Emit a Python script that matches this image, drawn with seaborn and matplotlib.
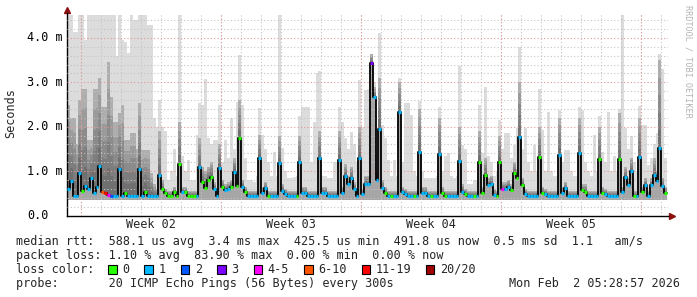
import numpy as np
import matplotlib
matplotlib.use("Agg")
import matplotlib.pyplot as plt
import matplotlib.transforms as mtransforms
from matplotlib.patches import Rectangle
import seaborn as sns

# ---------------- data (7 bins per day, 30 days) ----------------
BINS_PER_DAY = 7

median_rtt_ms = [
    0.60, 0.78, 0.45, 0.45, 0.96, 0.55, 0.66,
    0.60, 0.85, 0.50, 0.65, 1.12, 0.52, 0.50,
    0.46, 0.45, 0.45, 0.45, 1.04, 0.45, 0.50,
    0.45, 0.45, 0.45, 0.45, 1.04, 0.45, 0.54,
    0.43, 0.43, 0.43, 0.43, 0.91, 0.59, 0.50,
    0.45, 0.45, 0.52, 0.45, 1.17, 0.52, 0.52,
    0.45, 0.45, 0.45, 0.45, 1.09, 0.75, 0.63,
    0.80, 0.87, 0.60, 0.45, 1.08, 0.65, 0.57,
    0.59, 0.65, 0.99, 0.66, 1.75, 0.65, 0.54,
    0.45, 0.45, 0.45, 0.45, 1.30, 0.50, 0.61,
    0.45, 0.45, 0.45, 0.45, 1.18, 0.55, 0.48,
    0.45, 0.45, 0.45, 0.45, 1.21, 0.50, 0.50,
    0.45, 0.45, 0.45, 0.45, 1.29, 0.51, 0.51,
    0.45, 0.45, 0.45, 0.45, 1.26, 0.50, 0.90,
    0.70, 0.85, 0.59, 0.45, 1.30, 0.48, 0.70,
    0.70, 3.43, 2.66, 0.80, 1.95, 0.61, 0.50,
    0.45, 0.45, 0.45, 0.45, 2.32, 0.52, 0.48,
    0.45, 0.45, 0.45, 0.45, 1.44, 0.50, 0.50,
    0.45, 0.45, 0.45, 0.45, 1.38, 0.50, 0.45,
    0.45, 0.45, 0.45, 0.45, 1.23, 0.54, 0.48,
    0.45, 0.45, 0.45, 0.45, 1.21, 0.50, 0.91,
    0.69, 0.72, 0.46, 0.45, 1.21, 0.60, 0.60,
    0.65, 0.57, 0.95, 0.84, 1.77, 0.69, 0.48,
    0.45, 0.45, 0.45, 0.45, 1.31, 0.50, 0.48,
    0.45, 0.45, 0.45, 0.45, 1.36, 0.50, 0.61,
    0.45, 0.45, 0.45, 0.45, 1.40, 0.57, 0.54,
    0.45, 0.45, 0.45, 0.45, 1.27, 0.50, 0.48,
    0.45, 0.45, 0.45, 0.45, 1.27, 0.52, 0.87,
    0.69, 1.00, 0.45, 0.45, 1.32, 0.52, 0.69,
    0.45, 0.69, 0.91, 0.78, 1.53, 0.66, 0.50,
]

loss_count = [
    1, 1, 1, 1, 1, 0, 1,
    1, 1, 1, 1, 1, 8, 12,
    4, 2, 1, 1, 1, 1, 0,
    1, 1, 1, 1, 1, 1, 0,
    1, 1, 1, 1, 1, 0, 0,
    0, 0, 0, 0, 0, 1, 0,
    0, 0, 0, 1, 1, 0, 0,
    0, 0, 1, 1, 1, 0, 1,
    1, 0, 1, 0, 0, 1, 0,
    1, 1, 1, 1, 1, 1, 1,
    0, 1, 1, 1, 1, 1, 1,
    1, 1, 1, 0, 1, 1, 1,
    1, 1, 1, 1, 1, 1, 1,
    1, 1, 1, 1, 1, 1, 1,
    1, 1, 1, 1, 1, 1, 1,
    1, 3, 1, 1, 1, 1, 0,
    1, 0, 1, 1, 1, 1, 1,
    1, 1, 0, 1, 1, 1, 1,
    1, 0, 1, 1, 1, 0, 0,
    1, 1, 1, 1, 1, 1, 0,
    1, 1, 0, 1, 0, 0, 0,
    1, 1, 1, 0, 0, 4, 1,
    1, 0, 0, 0, 1, 0, 1,
    1, 1, 1, 1, 0, 0, 1,
    1, 1, 1, 1, 1, 1, 1,
    1, 1, 1, 1, 1, 0, 0,
    1, 1, 1, 1, 0, 0, 1,
    1, 1, 1, 1, 0, 1, 1,
    1, 1, 0, 1, 1, 0, 1,
    1, 1, 1, 1, 1, 1, 0,
]

smoke_max_ms = [
    4.52, 4.52, 4.14, 4.14, 4.52, 4.52, 3.95,
    4.52, 4.52, 4.52, 4.52, 4.52, 4.52, 4.52,
    4.52, 4.52, 4.52, 3.60, 4.52, 3.95, 3.90,
    3.65, 4.52, 4.40, 4.40, 4.52, 4.52, 4.52,
    4.29, 4.29, 2.20, 2.00, 2.60, 2.00, 1.90,
    0.80, 1.00, 1.50, 0.90, 4.52, 1.33, 1.00,
    1.25, 0.80, 0.80, 1.81, 2.53, 2.49, 3.07,
    1.74, 1.60, 1.70, 1.70, 2.49, 1.20, 1.70,
    1.29, 2.19, 1.50, 2.56, 3.61, 2.49, 1.30,
    0.80, 0.80, 0.76, 0.90, 2.41, 1.81, 1.50,
    1.21, 0.90, 1.44, 0.90, 4.52, 1.51, 1.00,
    0.84, 0.84, 0.87, 0.90, 2.23, 2.45, 2.45,
    2.45, 1.20, 2.11, 3.20, 3.25, 0.90, 0.90,
    0.85, 0.85, 1.21, 1.21, 2.45, 2.11, 1.74,
    1.50, 1.89, 1.60, 1.20, 3.05, 2.00, 2.83,
    2.86, 3.63, 3.00, 1.40, 4.10, 2.04, 1.74,
    1.25, 0.90, 1.25, 0.90, 3.09, 1.20, 2.54,
    2.54, 2.26, 1.00, 0.90, 2.58, 1.00, 0.85,
    0.85, 0.85, 0.85, 0.90, 2.45, 1.00, 1.33,
    1.40, 0.90, 0.85, 0.90, 3.37, 1.59, 1.50,
    0.70, 0.70, 0.80, 0.80, 2.49, 1.40, 2.90,
    1.33, 1.21, 0.90, 1.00, 2.15, 1.50, 1.85,
    1.85, 1.30, 1.59, 1.98, 3.80, 1.50, 1.96,
    1.20, 1.00, 1.59, 1.00, 2.86, 1.93, 1.00,
    2.34, 1.00, 0.90, 0.90, 2.38, 1.20, 1.48,
    1.48, 1.00, 0.90, 0.90, 2.45, 2.38, 1.21,
    1.00, 0.90, 1.81, 1.00, 2.25, 1.44, 1.20,
    2.34, 1.00, 1.33, 1.00, 2.40, 4.52, 1.96,
    1.50, 1.78, 1.20, 1.00, 2.47, 2.04, 2.04,
    1.14, 1.30, 1.60, 1.86, 3.63, 3.31, 1.30,
]

smoke_mid_ms = [
    2.50, 2.20, 2.20, 1.60, 2.60, 2.86, 2.86,
    1.70, 1.70, 2.86, 2.86, 3.10, 2.45, 2.45,
    3.46, 2.68, 2.10, 2.10, 2.30, 2.50, 1.70,
    1.70, 1.85, 1.85, 1.50, 2.53, 1.47, 1.47,
    1.47, 0.95, 0.70, 0.60, 1.90, 0.80, 0.60,
    0.55, 0.55, 0.65, 0.55, 2.10, 0.65, 0.65,
    0.55, 0.55, 0.55, 0.55, 1.74, 1.10, 1.00,
    1.10, 1.20, 0.75, 0.55, 1.60, 0.80, 0.70,
    0.75, 0.80, 1.30, 0.85, 2.60, 0.80, 0.65,
    0.55, 0.55, 0.55, 0.55, 1.81, 0.65, 0.75,
    0.55, 0.55, 0.55, 0.55, 1.80, 0.70, 0.60,
    0.55, 0.55, 0.55, 0.55, 1.80, 0.65, 0.65,
    0.55, 0.55, 0.55, 0.55, 1.90, 0.65, 0.65,
    0.55, 0.55, 0.55, 0.55, 1.90, 0.65, 1.15,
    0.90, 1.10, 0.75, 0.55, 2.00, 0.60, 0.90,
    0.90, 3.63, 2.90, 1.00, 3.10, 0.80, 0.65,
    0.55, 0.55, 0.55, 0.55, 3.00, 0.65, 0.60,
    0.55, 0.55, 0.55, 0.55, 2.40, 0.65, 0.65,
    0.55, 0.55, 0.55, 0.55, 2.20, 0.65, 0.55,
    0.55, 0.55, 0.55, 0.55, 2.00, 0.70, 0.60,
    0.55, 0.55, 0.55, 0.55, 1.90, 0.65, 1.30,
    0.85, 0.90, 0.60, 0.55, 1.80, 0.75, 0.75,
    0.80, 0.70, 1.20, 1.05, 3.00, 0.85, 0.60,
    0.55, 0.55, 0.55, 0.55, 2.00, 0.65, 0.60,
    0.55, 0.55, 0.55, 0.55, 2.20, 0.65, 0.75,
    0.55, 0.55, 0.55, 0.55, 2.20, 0.70, 0.70,
    0.55, 0.55, 0.55, 0.55, 2.00, 0.65, 0.60,
    0.55, 0.55, 0.55, 0.55, 2.30, 0.65, 1.10,
    0.85, 1.30, 0.55, 0.55, 2.20, 0.65, 0.85,
    0.55, 0.85, 1.30, 1.00, 3.50, 0.85, 0.65,
]
smoke_floor_ms = 0.36

week_start_offset_days = 0.715
week_labels = ["Week 02", "Week 03", "Week 04", "Week 05"]
y_tick_values = [0, 1, 2, 3, 4]
y_tick_labels = ["0.0", "1.0 m", "2.0 m", "3.0 m", "4.0 m"]

loss_labels = ["0", "1", "2", "3", "4-5", "6-10", "11-19", "20/20"]
loss_upper = [0, 1, 2, 3, 5, 10, 19, 20]
loss_colors = ["#26ff00", "#00b8ff", "#0059ff", "#7e00ff",
               "#ff00ff", "#ff5500", "#ff0000", "#a10000"]

stat_lines = [
    "median rtt:  588.1 us avg  3.4 ms max  425.5 us min  491.8 us now  0.5 ms sd  1.1   am/s",
    "packet loss: 1.10 % avg  83.90 % max  0.00 % min  0.00 % now",
]
probe_text = "probe:       20 ICMP Echo Pings (56 Bytes) every 300s"
date_text = "Mon Feb  2 05:28:57 2026"
credit_text = "RRDTOOL / TOBI OETIKER"

# ---------------- figure ----------------
sns.set_style("white")
plt.rcParams["font.family"] = ["DejaVu Sans Mono"]
FS = 8.5
W, H = 697, 297
fig = plt.figure(figsize=(W / 100, H / 100), dpi=100)
fig.patch.set_facecolor("white")
ax_l, ax_r, ax_b, ax_t = 67, 668, 215.5, 13
ax = fig.add_axes([ax_l / W, (H - ax_b) / H, (ax_r - ax_l) / W, (ax_b - ax_t) / H])
ax.set_facecolor("white")

n = len(median_rtt_ms)
med = np.array(median_rtt_ms)
smax = np.array(smoke_max_ms)
smid = np.array(smoke_mid_ms)
t_edges = np.arange(n + 1) / BINS_PER_DAY
ext = lambda a: np.append(a, a[-1])

x_max = (ax_r - ax_l) / 20.0
y_max = (ax_b - ax_t) / 44.4
ax.set_xlim(0, x_max)
ax.set_ylim(0, y_max)

# smoke: outer (lightest) band, inner band, then shading that darkens toward the median
ax.fill_between(t_edges, smoke_floor_ms, ext(smax), step="post",
                color="#dcdcdc", lw=0, zorder=1)
ax.fill_between(t_edges, smoke_floor_ms, ext(smid), step="post",
                color="#c4c4c4", lw=0, zorder=2)
ax.fill_between(t_edges, smoke_floor_ms, ext(med), step="post",
                color="#a6a6a6", lw=0, zorder=2.2)
for k in range(5):
    frac = (k + 1) / 5.0
    top = med + (smid - med) * frac
    ax.fill_between(t_edges, ext(med), ext(np.maximum(top, med)), step="post",
                    color="#202020", alpha=0.13, lw=0, zorder=2.5)

# grid
grid_kw = dict(lw=0.8, linestyle=(0, (1, 2)), zorder=3)
for v in np.arange(0.2, y_max, 0.2):
    if abs(v - round(v)) < 1e-6:
        continue
    ax.axhline(v, color="#c4c4c4", **grid_kw)
for d in np.arange(week_start_offset_days - 1, x_max, 1.0):
    if d <= 0:
        continue
    ax.axvline(d, color="#c4c4c4", **grid_kw)
for v in y_tick_values[1:]:
    ax.axhline(v, color="#e09898", **grid_kw)
for w in np.arange(week_start_offset_days, x_max, 7.0):
    ax.axvline(w, color="#e09898", **grid_kw)

# median line: black steps, then loss-coloured segments
sns.lineplot(x=t_edges, y=ext(med), drawstyle="steps-post", color="black",
             lw=1.3, ax=ax, zorder=4, legend=False)
idx = np.searchsorted(loss_upper, np.array(loss_count))
seg_colors = [loss_colors[i] for i in idx]
ax.hlines(med, t_edges[:-1], t_edges[1:], colors=seg_colors, lw=2.3, zorder=5)

# axes styling
for s in ["top", "right"]:
    ax.spines[s].set_visible(False)
ax.spines["left"].set_color("black")
ax.spines["bottom"].set_color("black")
ax.spines["left"].set_linewidth(1.0)
ax.spines["bottom"].set_linewidth(1.0)
ax.set_xticks([])
ax.set_yticks([])
ax.set_xlabel("")
ax.set_ylabel("")
ax.plot([1.0 + 4 / 601], [0], marker=">", ms=4, color="#8b1010",
        transform=ax.transAxes, clip_on=False)
ax.plot([0], [1.0 + 3 / 202.5], marker="^", ms=4, color="#8b1010",
        transform=ax.transAxes, clip_on=False)

# y tick labels
ytr = mtransforms.blended_transform_factory(fig.transFigure, ax.transData)
for v, lab in zip(y_tick_values, y_tick_labels):
    ax.text(27 / W, v, lab, transform=ytr, ha="left", va="center",
            fontsize=FS, color="black", clip_on=False)
fig.text(11 / W, 1 - 113.5 / H, "Seconds", rotation=90, ha="center",
         va="center", fontsize=FS)

# week labels
xtr = mtransforms.blended_transform_factory(ax.transData, fig.transFigure)
for i, lab in enumerate(week_labels):
    xm = week_start_offset_days + 7 * i + 3.5
    ax.text(xm, 1 - 224.5 / H, lab, transform=xtr, ha="center", va="center",
            fontsize=FS, clip_on=False)

# credit
fig.text(688 / W, 1 - 5 / H, credit_text, rotation=270, ha="center",
         va="top", fontsize=6.1, color="#b4b4b4")

# bottom text
baselines = [245, 259, 273, 287]
for line, yb in zip(stat_lines, baselines[:2]):
    fig.text(16 / W, 1 - yb / H, line, ha="left", va="baseline", fontsize=FS)
fig.text(16 / W, 1 - baselines[2] / H, "loss color:", ha="left",
         va="baseline", fontsize=FS)
cw = 6.96
cursor = 108.0
for lab, col in zip(loss_labels, loss_colors):
    fig.patches.append(Rectangle((cursor / W, 1 - 273.5 / H), 8.5 / W, 8.5 / H,
                                 transform=fig.transFigure, facecolor=col,
                                 edgecolor="black", lw=0.8))
    fig.text((cursor + 14) / W, 1 - baselines[2] / H, lab, ha="left",
             va="baseline", fontsize=FS)
    cursor = cursor + 14 + len(lab) * cw + 15.5
fig.text(16 / W, 1 - baselines[3] / H, probe_text, ha="left",
         va="baseline", fontsize=FS)
fig.text(680 / W, 1 - baselines[3] / H, date_text, ha="right",
         va="baseline", fontsize=FS)

fig.savefig("out.png", dpi=100, facecolor="white")
